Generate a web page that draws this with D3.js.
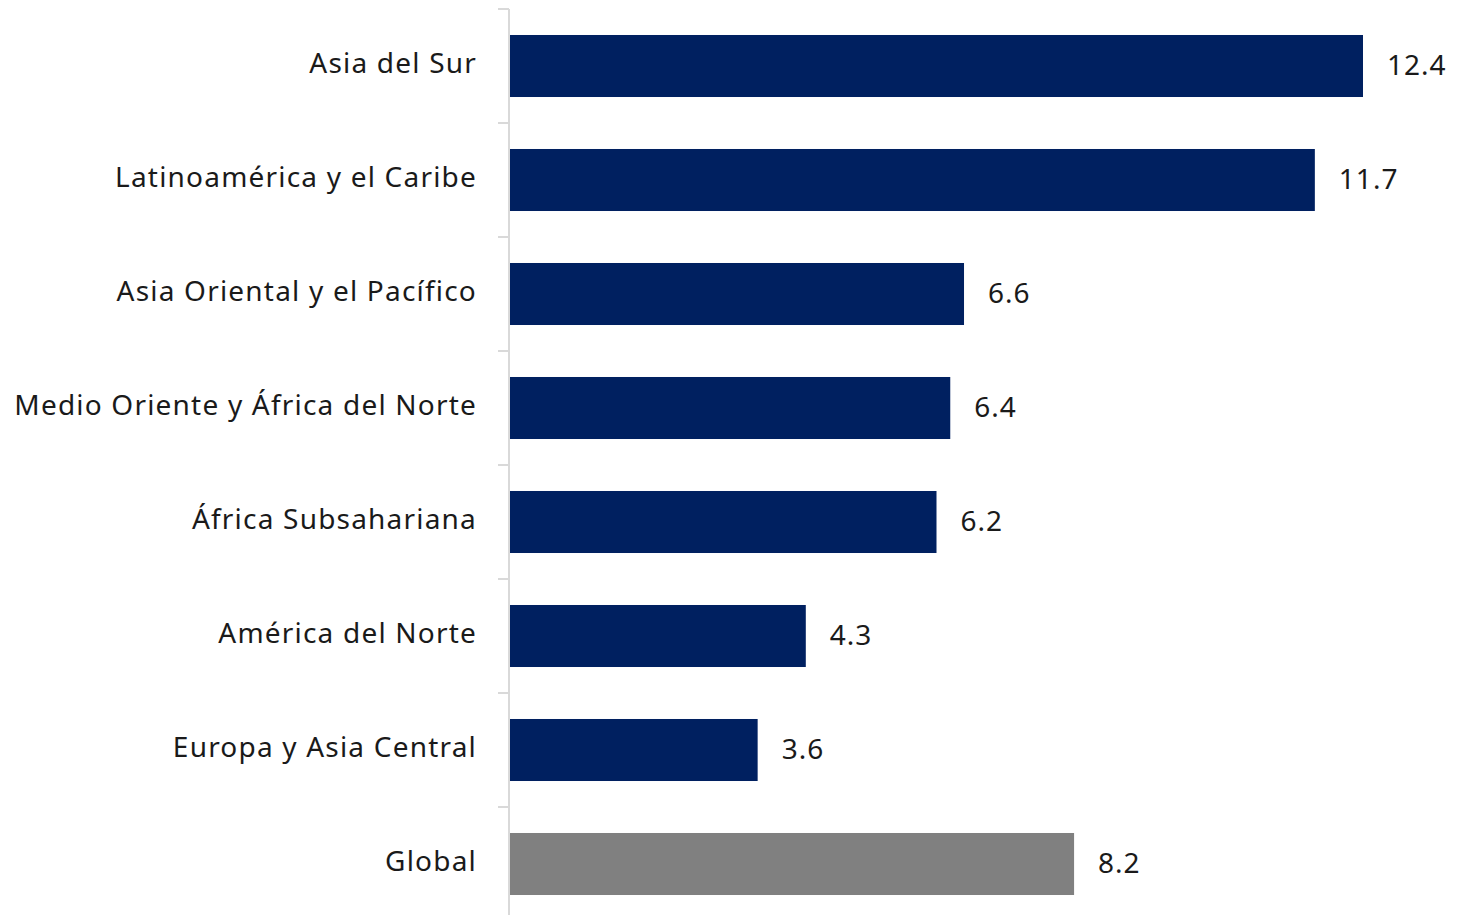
<!DOCTYPE html>
<html><head><meta charset="utf-8">
<script src="https://cdn.jsdelivr.net/npm/d3@7"></script>
<style>body{margin:0;background:#fff}svg{display:block}</style>
</head><body>
<script>
const categories = ["Asia del Sur","Latinoamérica y el Caribe","Asia Oriental y el Pacífico","Medio Oriente y África del Norte","África Subsahariana","América del Norte","Europa y Asia Central","Global"];
const values = [12.4, 11.7, 6.6, 6.4, 6.2, 4.3, 3.6, 8.2];
const barColors = ["#002060","#002060","#002060","#002060","#002060","#002060","#002060","#808080"];

const W = 1459, H = 915;
const svg = d3.select("body").append("svg").attr("width", W).attr("height", H);
const x0 = 510;
const x = d3.scaleLinear().domain([0, 12.4]).range([x0, 1363]);
const y = d3.scaleBand().domain(categories).range([9, 921]).paddingInner(0.456).paddingOuter(0.228);
const font = "'Noto Sans', sans-serif";

// bars
svg.selectAll("rect.bar").data(categories).join("rect")
  .attr("class","bar")
  .attr("x", x(0))
  .attr("y", d => y(d))
  .attr("width", (d,i) => x(values[i]) - x(0))
  .attr("height", y.bandwidth())
  .attr("fill", (d,i) => barColors[i]);

// axis line
svg.append("line").attr("x1", 509).attr("x2", 509).attr("y1", 9).attr("y2", H)
  .attr("stroke", "#d9d9d9").attr("stroke-width", 2);
// ticks at band boundaries
const step = y.step();
svg.selectAll("line.tick").data(categories).join("line")
  .attr("class","tick")
  .attr("x1", 498).attr("x2", 509)
  .attr("y1", d => y(d) - y.paddingInner()*step/2)
  .attr("y2", d => y(d) - y.paddingInner()*step/2)
  .attr("stroke", "#d9d9d9").attr("stroke-width", 2);

// category labels
svg.selectAll("text.cat").data(categories).join("text")
  .attr("class","cat")
  .attr("x", 477)
  .attr("y", d => y(d) + y.bandwidth()/2 - 3)
  .attr("dy", "0.35em")
  .attr("text-anchor", "end")
  .attr("letter-spacing", 1.2)
  .attr("font-family", font).attr("font-size", 28).attr("fill", "#1a1a1a")
  .text(d => d);

// value labels
svg.selectAll("text.val").data(categories).join("text")
  .attr("class","val")
  .attr("x", (d,i) => x(values[i]) + 24)
  .attr("y", d => y(d) + y.bandwidth()/2 - 1)
  .attr("dy", "0.35em")
  .attr("letter-spacing", 1)
  .attr("font-family", font).attr("font-size", 28).attr("fill", "#1a1a1a")
  .text((d,i) => values[i].toFixed(1));
</script>
</body></html>
